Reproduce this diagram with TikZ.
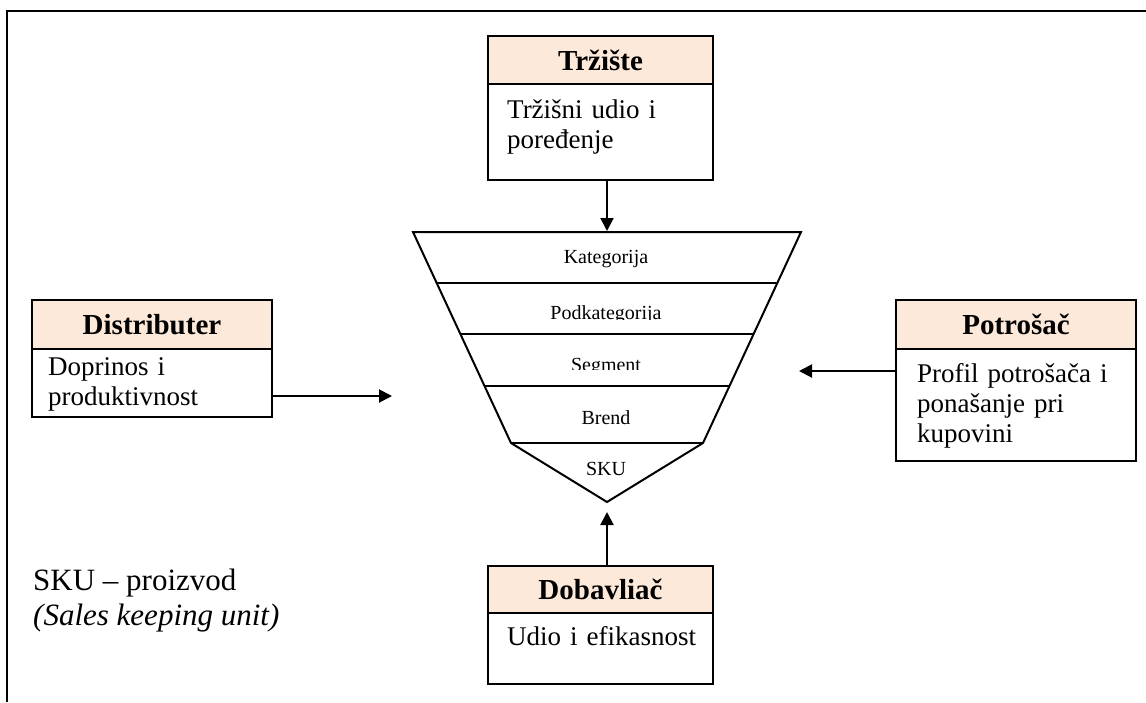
\documentclass[tikz,border=0pt]{standalone}
\usepackage{fontspec}
\setmainfont{Liberation Serif}
\usetikzlibrary{arrows.meta,calc}
\definecolor{headfill}{HTML}{FDE9D9}
\begin{document}
\begin{tikzpicture}[x=1pt,y=-1pt,
  hdr/.style={draw, line width=2pt, fill=headfill, anchor=north west, inner sep=0pt,
    font=\fontsize{29}{32}\selectfont\bfseries},
  bodybox/.style={draw, line width=2pt, anchor=north west, inner sep=0pt},
  bodytxt/.style={anchor=base west, inner sep=0pt, align=left, text width=210pt,
    font=\fontsize{27}{30}\selectfont},
  lvl/.style={anchor=base, inner sep=0pt, font=\fontsize{20}{24}\selectfont},
  legend/.style={anchor=base west, inner sep=0pt, font=\fontsize{31}{35}\selectfont},
  arr/.style={line width=2pt, -{Triangle[length=13pt,width=13pt]}},
  funnel/.style={line width=2pt, line join=miter}]
\useasboundingbox (0,0) rectangle (1146,702);

% page frame (left and top edges)
\draw[line width=2.6pt] (7,702) -- (7,11) -- (1146,11);

% funnel corners
\coordinate (fTL) at (413,232);
\coordinate (fTR) at (801,232);
\coordinate (fBL) at (511,443);
\coordinate (fBR) at (703,443);
\coordinate (fApex) at (607,502);
\draw[funnel] (fTL) -- (fTR) -- (fBR) -- (fApex) -- (fBL) -- cycle;
\draw[funnel] ($(fTL)!0.2417!(fBL)$) -- ($(fTR)!0.2417!(fBR)$);
\draw[funnel] ($(fTL)!0.4834!(fBL)$) -- ($(fTR)!0.4834!(fBR)$);
\draw[funnel] ($(fTL)!0.7299!(fBL)$) -- ($(fTR)!0.7299!(fBR)$);
\draw[funnel] (fBL) -- (fBR);

% funnel levels
\node[lvl] (lKat) at (606,263) {Kategorija};
\begin{scope}
  \clip (413,290) rectangle (801,319.5);
  \node[lvl] (lPod) at (606,319) {Podkategorija};
\end{scope}
\begin{scope}
  \clip (413,340) rectangle (801,369.5);
  \node[lvl] (lSeg) at (606,371) {Segment};
\end{scope}
\node[lvl] (lBre) at (606,424) {Brend};
\node[lvl] (lSku) at (606,475) {SKU};

% Tržište
\node[hdr, minimum width=225pt, minimum height=48pt] (trzH) at (487,35) {Tržište};
\node[bodybox, minimum width=225pt, minimum height=96pt] (trzB) at (487,83) {};
\node[bodytxt] (trzT) at (507,118) {Tržišni udio i\\poređenje};

% Distributer
\node[hdr, minimum width=240pt, minimum height=49pt] (disH) at (31,299) {Distributer};
\node[bodybox, minimum width=240pt, minimum height=68pt] (disB) at (31,348) {};
\node[bodytxt] (disT) at (48,375) {Doprinos i\\produktivnost};

% Potrošač
\node[hdr, minimum width=240pt, minimum height=49pt] (potH) at (895,299) {Potrošač};
\node[bodybox, minimum width=240pt, minimum height=112pt] (potB) at (895,348) {};
\node[bodytxt] (potT) at (917,382) {Profil potrošača i\\ponašanje pri\\kupovini};

% Dobavliač
\node[hdr, minimum width=225pt, minimum height=47pt] (dobH) at (487,565) {Dobavliač};
\node[bodybox, minimum width=225pt, minimum height=71pt] (dobB) at (487,612) {};
\node[bodytxt] (dobT) at (507,645) {Udio i efikasnost};

% legend
\node[legend] (legA) at (33,590) {SKU – proizvod};
\node[legend, font=\fontsize{31}{35}\selectfont\itshape] (legB) at (33,625) {(Sales keeping unit)};

% arrows into the funnel
\coordinate (tipTop) at (607,231);
\coordinate (tipLeft) at (392,396);
\coordinate (tipRight) at (799,371);
\coordinate (tipBottom) at (607,512);
\draw[arr] (trzB.south -| tipTop) -- (tipTop);
\draw[arr] (disB.east |- tipLeft) -- (tipLeft);
\draw[arr] (potB.west |- tipRight) -- (tipRight);
\draw[arr] (dobH.north -| tipBottom) -- (tipBottom);
\end{tikzpicture}
\end{document}
